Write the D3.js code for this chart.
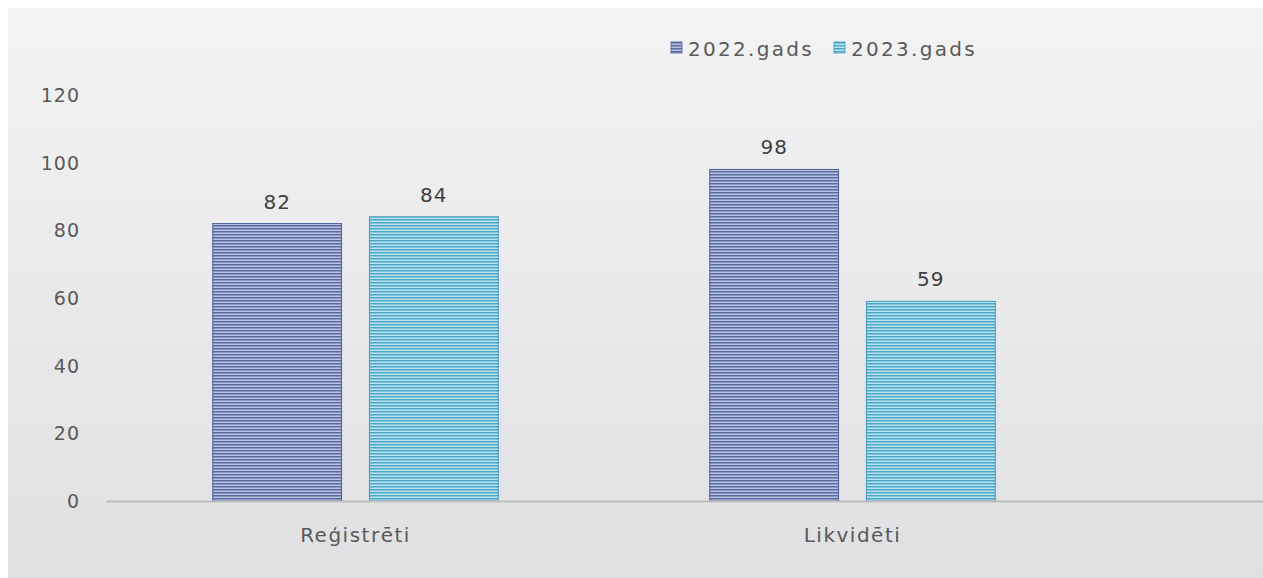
<!DOCTYPE html>
<html>
<head>
<meta charset="utf-8">
<script src="https://cdn.jsdelivr.net/npm/d3@7"></script>
<style>
  body { margin: 0; background: #fff; }
  text { font-family: "DejaVu Sans", sans-serif; }
</style>
</head>
<body>
<svg id="chart" width="1263" height="578"></svg>
<script>
const categories = ["Reģistrēti", "Likvidēti"];
const seriesNames = ["2022.gads", "2023.gads"];
const values2022 = [82, 98];
const values2023 = [84, 59];
const yTicks = [0, 20, 40, 60, 80, 100, 120];

const width = 1263, height = 578;
const svg = d3.select("#chart");
const defs = svg.append("defs");

// panel background
const bg = defs.append("linearGradient").attr("id", "bg")
  .attr("x1", 0).attr("y1", 0).attr("x2", 0).attr("y2", 1);
bg.append("stop").attr("offset", "0%").attr("stop-color", "#f3f3f4");
bg.append("stop").attr("offset", "100%").attr("stop-color", "#e0e0e3");
svg.append("rect").attr("x", 8).attr("y", 8)
  .attr("width", width - 8).attr("height", height - 8).attr("fill", "url(#bg)");

// striped fills
const colors = [
  { id: "p0", dark: "#5a6aa2", light: "#b9c3df", edge: "#4e5f96" },
  { id: "p1", dark: "#48a6c7", light: "#bde3ef", edge: "#3f9abd" }
];
colors.forEach(c => {
  const p = defs.append("pattern").attr("id", c.id)
    .attr("patternUnits", "userSpaceOnUse").attr("width", 6).attr("height", 3);
  p.append("rect").attr("width", 6).attr("height", 3).attr("fill", c.light);
  p.append("rect").attr("width", 6).attr("height", 1.5).attr("fill", c.dark);
});

const y = d3.scaleLinear().domain([0, 120]).range([501, 95]);
const x0 = d3.scaleBand().domain(categories).range([107, 1101]);
const x1 = d3.scaleBand().domain(seriesNames).range([0, x0.bandwidth()])
  .paddingInner(0.178).paddingOuter(0.675);

// y labels
svg.append("g").selectAll("text").data(yTicks).join("text")
  .attr("x", 80).attr("y", d => y(d) + 7)
  .attr("text-anchor", "end").attr("font-size", 19).attr("fill", "#595959")
  .attr("letter-spacing", 1)
  .text(d => d);

const data = categories.map((c, i) => ({
  cat: c, vals: [values2022[i], values2023[i]]
}));

const groups = svg.append("g").selectAll("g").data(data).join("g")
  .attr("transform", d => `translate(${x0(d.cat)},0)`);

groups.selectAll("rect").data(d => d.vals.map((v, j) => ({ s: seriesNames[j], v, j })))
  .join("rect")
  .attr("x", d => x1(d.s)).attr("y", d => y(d.v))
  .attr("width", x1.bandwidth()).attr("height", d => y(0) - y(d.v))
  .attr("fill", d => `url(#${colors[d.j].id})`)
  .attr("stroke", d => colors[d.j].edge).attr("stroke-width", 1);

groups.selectAll("text").data(d => d.vals.map((v, j) => ({ s: seriesNames[j], v })))
  .join("text")
  .attr("x", d => x1(d.s) + x1.bandwidth() / 2).attr("y", d => y(d.v) - 15)
  .attr("text-anchor", "middle").attr("font-size", 20).attr("fill", "#404040")
  .attr("letter-spacing", 1)
  .text(d => d.v);

// x axis line
svg.append("line").attr("x1", 106).attr("x2", width)
  .attr("y1", y(0) + 0.5).attr("y2", y(0) + 0.5)
  .attr("stroke", "#bfbfbf").attr("stroke-width", 2);

// category labels
svg.append("g").selectAll("text").data(categories).join("text")
  .attr("x", d => x0(d) + x0.bandwidth() / 2).attr("y", 542)
  .attr("text-anchor", "middle").attr("font-size", 20).attr("fill", "#595959")
  .attr("letter-spacing", 1.5)
  .text(d => d);

// legend
const legendX = [671, 834];
const legend = svg.append("g").selectAll("g").data(seriesNames).join("g")
  .attr("transform", (d, i) => `translate(${legendX[i]},42)`);
legend.append("rect").attr("width", 11).attr("height", 11)
  .attr("fill", (d, i) => `url(#${colors[i].id})`)
  .attr("stroke", (d, i) => colors[i].edge).attr("stroke-width", 0.8);
legend.append("text").attr("x", 17).attr("y", 14)
  .attr("font-size", 20).attr("fill", "#595959")
  .attr("letter-spacing", 2.3).text(d => d);
</script>
</body>
</html>
